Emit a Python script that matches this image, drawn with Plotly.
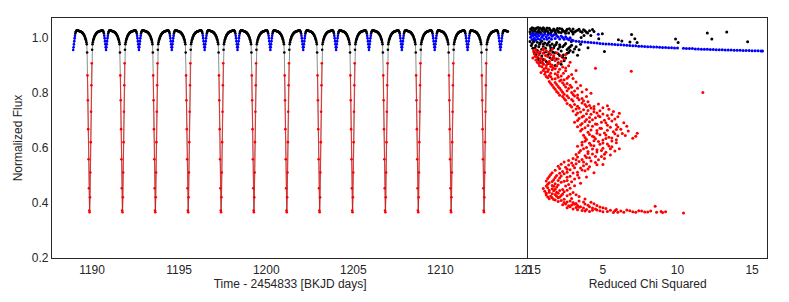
import numpy as np
import plotly.graph_objects as go

# ---------------- Left panel: light curve -------------
period = 1.887            # days between primary eclipses
t_primary_first = 1189.86 # first primary minimum in view
n_per_cycle = 92          # cadences per orbital cycle
k_first, k_last = 46, 1263  # cadence indices covered (start at a secondary minimum)

# flux at each cadence of one cycle, starting at primary minimum
cycle_flux = [
    0.366, 0.420, 0.510, 0.620, 0.730, 0.826, 0.906, 0.955, 0.975, 0.982,
    0.988, 0.993, 0.997, 1.001, 1.004, 1.007, 1.009, 1.011, 1.013, 1.015,
    1.016, 1.017, 1.018, 1.019, 1.020, 1.021, 1.021, 1.022, 1.022, 1.023,
    1.023, 1.024, 1.024, 1.024, 1.025, 1.025, 1.025, 1.024, 1.022, 1.019,
    1.014, 1.006, 0.997, 0.986, 0.975, 0.964, 0.954, 0.964, 0.975, 0.986,
    0.997, 1.006, 1.014, 1.019, 1.022, 1.024, 1.025, 1.025, 1.025, 1.024,
    1.024, 1.024, 1.023, 1.023, 1.022, 1.022, 1.021, 1.021, 1.020, 1.019,
    1.018, 1.017, 1.016, 1.015, 1.013, 1.011, 1.009, 1.007, 1.004, 1.001,
    0.997, 0.993, 0.988, 0.982, 0.975, 0.945, 0.862, 0.772, 0.667, 0.558,
    0.453, 0.372]
# class of each cadence: r = primary eclipse, b = secondary eclipse, k = out of eclipse
cycle_class = "r" * 7 + "k" * 34 + "b" * 11 + "k" * 34 + "r" * 6

# ---------------- Right panel: reduced chi squared vs flux -------
black_points = [
    (0.1, 1.020), (0.2, 1.028), (0.3, 1.016), (0.35, 1.033), (0.45, 1.022), (0.5, 1.030),
    (0.6, 1.018), (0.7, 1.026), (0.8, 1.034), (0.85, 1.015), (0.95, 1.023), (1.05, 1.031),
    (1.1, 1.018), (1.2, 1.027), (1.3, 1.021), (1.4, 1.033), (1.5, 1.016), (1.6, 1.025),
    (1.7, 1.030), (1.8, 1.019), (1.9, 1.027), (2.0, 1.022), (2.1, 1.032), (2.2, 1.017),
    (2.3, 1.026), (2.45, 1.021), (2.6, 1.029), (2.7, 1.016), (2.85, 1.024), (3.0, 1.030),
    (3.1, 1.019), (3.3, 1.026), (3.5, 1.021), (3.7, 1.027), (3.9, 1.018), (4.1, 1.024),
    (4.4, 1.021), (0.25, 1.035), (0.65, 1.036), (1.0, 1.035), (0.15, 1.012), (0.55, 1.013),
    (0.15, 1.030), (0.4, 1.026), (0.55, 1.034), (0.75, 1.020), (0.9, 1.029), (1.15, 1.024),
    (1.25, 1.034), (1.45, 1.027), (1.55, 1.020), (1.75, 1.025), (1.95, 1.032), (2.05, 1.018),
    (2.25, 1.030), (2.35, 1.022), (2.55, 1.024), (2.75, 1.031), (2.95, 1.020), (3.2, 1.023),
    (3.4, 1.029), (3.6, 1.018), (3.8, 1.024), (4.3, 1.028), (0.3, 1.022), (0.65, 1.015),
    (1.35, 1.014), (1.85, 1.013), (2.5, 1.015), (3.0, 1.012),
    (0.1, 0.985), (0.25, 0.978), (0.4, 0.988), (0.5, 0.970), (0.6, 0.982), (0.75, 0.975),
    (0.9, 0.986), (1.0, 0.966), (1.1, 0.979), (1.25, 0.972), (1.4, 0.984), (1.5, 0.962),
    (1.6, 0.976), (1.75, 0.969), (1.9, 0.981), (2.0, 0.958), (2.1, 0.973), (2.3, 0.966),
    (2.5, 0.978), (2.7, 0.961), (2.9, 0.971), (3.2, 0.966), (3.5, 0.975), (0.3, 0.960),
    (0.6, 0.952), (0.9, 0.957), (1.2, 0.948), (1.5, 0.953), (1.8, 0.944), (2.2, 0.950),
    (2.6, 0.942), (3.0, 0.947), (0.5, 0.938), (0.9, 0.932), (1.3, 0.936), (1.7, 0.928),
    (2.1, 0.934), (2.5, 0.925), (0.7, 0.918), (1.2, 0.912), (1.6, 0.920), (2.0, 0.908),
    (2.4, 0.915), (1.0, 0.903), (1.8, 0.898), (3.4, 0.955), (4.0, 0.962),
    (0.2, 0.970), (0.35, 0.984), (0.45, 0.962), (0.7, 0.966), (0.8, 0.980), (1.0, 0.975),
    (1.15, 0.960), (1.3, 0.978), (1.45, 0.970), (1.7, 0.962), (1.85, 0.974), (2.1, 0.965),
    (2.4, 0.971), (2.6, 0.956), (2.8, 0.966), (3.1, 0.958), (0.4, 0.946), (0.75, 0.942),
    (1.05, 0.944), (1.4, 0.940), (1.65, 0.946), (2.0, 0.940), (2.35, 0.936), (2.8, 0.952),
    (0.65, 0.925), (1.0, 0.920), (1.45, 0.926), (1.9, 0.921), (2.3, 0.928), (1.3, 0.905),
    (2.2, 0.902), (0.85, 0.910),
    (3.97, 1.016), (4.19, 1.007), (4.96, 1.013), (3.54, 0.999), (3.73, 1.007), (4.72, 0.995),
    (2.88, 0.985), (5.1, 0.949), (6.04, 0.991), (6.27, 0.987), (6.92, 1.010), (7.14, 0.995),
    (6.81, 0.983), (7.29, 0.981), (9.87, 0.994), (10.04, 0.981), (12.0, 1.016), (12.3, 0.994),
    (13.3, 1.019), (14.7, 0.984), (2.7, 0.945), (3.3, 0.935)]

blue_points = [
    (0.15, 1.000), (0.2, 1.010), (0.25, 0.992), (0.3, 1.005), (0.35, 1.013), (0.4, 0.996),
    (0.45, 1.008), (0.5, 0.990), (0.55, 1.002), (0.6, 1.012), (0.65, 0.995), (0.7, 1.006),
    (0.8, 0.992), (0.85, 1.011), (0.9, 1.000), (1.0, 1.007), (1.05, 0.994), (1.1, 1.012),
    (1.2, 1.002), (1.25, 0.993), (1.3, 1.009), (1.4, 0.998), (1.5, 1.010), (1.55, 0.993),
    (1.6, 1.004), (1.7, 1.009), (1.8, 0.996), (1.9, 1.006), (2.0, 1.001), (2.1, 0.994),
    (2.2, 1.005), (2.3, 0.999), (2.4, 0.993), (2.5, 1.002), (2.6, 0.996), (2.7, 0.991),
    (2.8, 0.998), (2.9, 0.990), (4.69, 1.011),
    (3.0, 0.988), (3.2, 0.986), (3.4, 0.985), (3.6, 0.984), (3.8, 0.983), (4.0, 0.982),
    (4.2, 0.981), (4.4, 0.980), (4.6, 0.979), (4.8, 0.978), (5.0, 0.977), (5.2, 0.976),
    (5.4, 0.976), (5.6, 0.975), (5.8, 0.974), (6.0, 0.973), (6.2, 0.973), (6.4, 0.972),
    (6.6, 0.971), (6.8, 0.970), (7.0, 0.969), (7.2, 0.969), (7.4, 0.968), (7.6, 0.968),
    (7.8, 0.967), (8.0, 0.966), (8.2, 0.966), (8.4, 0.965), (8.6, 0.965), (8.8, 0.964),
    (9.0, 0.963), (9.2, 0.963), (9.4, 0.962), (9.6, 0.962), (9.8, 0.961), (10.0, 0.961),
    (10.4, 0.960), (10.6, 0.959), (10.8, 0.959), (11.0, 0.959), (11.2, 0.958), (11.4, 0.958),
    (11.6, 0.957), (11.8, 0.957), (12.0, 0.957), (12.2, 0.956), (12.4, 0.956), (12.6, 0.955),
    (12.8, 0.955), (13.0, 0.955), (13.2, 0.954), (13.4, 0.954), (13.6, 0.954), (13.8, 0.953),
    (14.0, 0.953), (14.2, 0.953), (14.4, 0.952), (14.6, 0.952), (14.8, 0.952), (15.0, 0.951),
    (15.2, 0.951), (15.4, 0.951), (15.6, 0.950), (15.7, 0.950)]

red_points = [
    (0.5, 0.955), (0.8, 0.948), (1.2, 0.951), (0.4, 0.940), (0.7, 0.936), (1.0, 0.942),
    (1.5, 0.938), (1.9, 0.944), (0.6, 0.928), (0.9, 0.925), (1.3, 0.930), (1.7, 0.926),
    (2.2, 0.932), (0.5, 0.918), (0.8, 0.914), (1.1, 0.919), (1.4, 0.912), (1.8, 0.916),
    (2.4, 0.921), (0.7, 0.905), (1.0, 0.902), (1.3, 0.907), (1.6, 0.899), (2.0, 0.905),
    (0.9, 0.893), (1.2, 0.889), (1.5, 0.894), (1.8, 0.886), (2.3, 0.892), (2.7, 0.897),
    (1.0, 0.880), (1.3, 0.876), (1.6, 0.882), (2.0, 0.874), (2.5, 0.879), (1.1, 0.866),
    (1.4, 0.862), (1.8, 0.868), (2.2, 0.860), (2.9, 0.865), (1.3, 0.853), (1.6, 0.849),
    (2.0, 0.855), (2.4, 0.846), (3.0, 0.851),
    (0.35, 0.950), (0.65, 0.944), (1.0, 0.955), (1.4, 0.947), (1.7, 0.934), (0.45, 0.930),
    (0.8, 0.921), (1.15, 0.934), (1.55, 0.921), (2.0, 0.921), (0.6, 0.910), (0.95, 0.910),
    (1.2, 0.898), (1.45, 0.904), (1.9, 0.896), (2.2, 0.912), (0.75, 0.897), (1.05, 0.886),
    (1.35, 0.883), (1.65, 0.890), (2.1, 0.884), (2.5, 0.889), (0.85, 0.872), (1.15, 0.874),
    (1.5, 0.870), (1.95, 0.863), (2.35, 0.870), (2.7, 0.858), (1.2, 0.858), (1.5, 0.857),
    (1.8, 0.850), (2.2, 0.845), (2.6, 0.852), (1.0, 0.960), (1.6, 0.957), (2.5, 0.938),
    (2.8, 0.910), (3.2, 0.880), (0.3, 0.925), (0.55, 0.945),
    (1.4, 0.840), (1.8, 0.836), (2.1, 0.842), (2.6, 0.833), (3.2, 0.838), (1.6, 0.826),
    (2.0, 0.822), (2.4, 0.828), (2.9, 0.819), (3.5, 0.825), (1.8, 0.812), (2.2, 0.808),
    (2.7, 0.814), (3.1, 0.805), (3.9, 0.811), (2.0, 0.798), (2.4, 0.794), (2.9, 0.800),
    (3.3, 0.791), (4.2, 0.797), (2.3, 0.785), (2.7, 0.781), (3.1, 0.787), (3.6, 0.778),
    (2.5, 0.772), (3.0, 0.769), (3.4, 0.774), (4.0, 0.766),
    (1.5, 0.833), (1.9, 0.829), (2.3, 0.835), (2.8, 0.826), (1.7, 0.818), (2.1, 0.815),
    (2.5, 0.820), (3.3, 0.815), (1.9, 0.804), (2.3, 0.801), (2.6, 0.806), (3.6, 0.802),
    (2.1, 0.790), (2.6, 0.788), (3.0, 0.793), (3.9, 0.785), (2.4, 0.778), (2.9, 0.775),
    (3.3, 0.781), (3.7, 0.770),
    (2.6, 0.760), (3.1, 0.756), (3.6, 0.762), (4.1, 0.753), (4.7, 0.758), (2.9, 0.747),
    (3.4, 0.743), (3.9, 0.749), (4.4, 0.740), (5.0, 0.745), (3.0, 0.733), (3.5, 0.729),
    (4.0, 0.735), (4.6, 0.726), (5.7, 0.731), (6.1, 0.725), (3.2, 0.719), (3.7, 0.715),
    (4.2, 0.721), (4.8, 0.712), (5.3, 0.717), (3.4, 0.706), (3.9, 0.702), (4.5, 0.708),
    (5.1, 0.699), (5.8, 0.704),
    (2.8, 0.754), (3.3, 0.750), (3.8, 0.756), (4.4, 0.749), (5.3, 0.752), (3.2, 0.740),
    (3.7, 0.737), (4.2, 0.744), (4.8, 0.734), (5.4, 0.739), (3.3, 0.726), (3.9, 0.723),
    (4.4, 0.730), (5.0, 0.722), (5.6, 0.720), (3.6, 0.711), (4.1, 0.709), (4.7, 0.716),
    (5.4, 0.706), (6.0, 0.712),
    (3.1, 0.692), (3.6, 0.688), (4.1, 0.694), (4.6, 0.685), (5.2, 0.690), (5.9, 0.683),
    (3.3, 0.676), (3.8, 0.672), (4.3, 0.678), (4.9, 0.669), (5.5, 0.674), (6.2, 0.667),
    (3.5, 0.660), (4.0, 0.656), (4.6, 0.662), (5.1, 0.653), (5.7, 0.658), (6.3, 0.651),
    (7.0, 0.634), (7.2, 0.641), (3.7, 0.645), (4.3, 0.641), (4.8, 0.647), (5.4, 0.638),
    (6.0, 0.643), (3.9, 0.630), (4.5, 0.632), (5.0, 0.628), (5.6, 0.635),
    (3.3, 0.698), (3.8, 0.695), (4.3, 0.701), (4.9, 0.692), (5.6, 0.697), (6.4, 0.690),
    (3.5, 0.682), (4.0, 0.680), (4.5, 0.686), (5.3, 0.681), (6.0, 0.675), (6.6, 0.678),
    (3.6, 0.667), (4.2, 0.664), (4.8, 0.670), (5.3, 0.663), (5.9, 0.666), (6.7, 0.660),
    (4.1, 0.648), (4.6, 0.652), (5.2, 0.646), (5.8, 0.650), (6.5, 0.644), (7.3, 0.652),
    (3.8, 0.637), (4.4, 0.639), (5.2, 0.633), (5.9, 0.629),
    (3.6, 0.620), (4.1, 0.616), (4.7, 0.622), (5.3, 0.613), (5.9, 0.618), (3.3, 0.605),
    (3.9, 0.601), (4.4, 0.607), (5.0, 0.598), (5.6, 0.603), (6.1, 0.596), (3.5, 0.590),
    (4.0, 0.586), (4.6, 0.592), (5.2, 0.583), (5.8, 0.588), (3.2, 0.575), (3.8, 0.571),
    (4.3, 0.577), (4.9, 0.568), (5.5, 0.573), (3.0, 0.561), (3.6, 0.557), (4.1, 0.563),
    (4.7, 0.556),
    (3.8, 0.623), (4.4, 0.625), (5.0, 0.617), (5.6, 0.624), (3.6, 0.610), (4.2, 0.609),
    (4.8, 0.612), (5.4, 0.606), (3.7, 0.596), (4.3, 0.595), (4.9, 0.590), (5.5, 0.596),
    (3.4, 0.582), (4.0, 0.579), (4.6, 0.584), (5.1, 0.576), (3.3, 0.566), (3.9, 0.564),
    (4.5, 0.568), (5.1, 0.561),
    (2.4, 0.548), (2.9, 0.544), (3.4, 0.550), (3.9, 0.541), (4.5, 0.546), (5.0, 0.539),
    (2.0, 0.533), (2.5, 0.529), (3.0, 0.535), (3.5, 0.526), (4.1, 0.531), (1.8, 0.518),
    (2.3, 0.514), (2.8, 0.520), (3.3, 0.511), (3.8, 0.516), (4.4, 0.509),
    (2.7, 0.553), (3.2, 0.556), (3.7, 0.548), (4.2, 0.552), (2.2, 0.540), (2.7, 0.537),
    (3.2, 0.542), (3.7, 0.534), (4.6, 0.538), (2.1, 0.524), (2.6, 0.522), (3.1, 0.527),
    (3.6, 0.519), (4.0, 0.523),
    (1.5, 0.503), (1.9, 0.499), (2.4, 0.505), (2.8, 0.496), (3.3, 0.501), (3.9, 0.494),
    (1.3, 0.488), (1.7, 0.484), (2.1, 0.490), (2.6, 0.481), (3.1, 0.486), (1.4, 0.473),
    (1.8, 0.469), (2.2, 0.475), (2.7, 0.466), (3.5, 0.471), (1.2, 0.461), (1.6, 0.463),
    (1.6, 0.509), (2.1, 0.507), (2.6, 0.511), (3.0, 0.508), (1.4, 0.495), (1.8, 0.492),
    (2.2, 0.497), (2.6, 0.493), (3.4, 0.491), (1.2, 0.479), (1.6, 0.477), (2.0, 0.481),
    (2.4, 0.478), (2.9, 0.476), (1.3, 0.467), (1.7, 0.460), (2.0, 0.465), (2.5, 0.461),
    (3.1, 0.462),
    (1.3, 0.455), (1.6, 0.451), (1.9, 0.457), (2.3, 0.448), (2.8, 0.453), (1.1, 0.442),
    (1.4, 0.438), (1.7, 0.444), (2.0, 0.435), (2.4, 0.440), (3.0, 0.437), (1.2, 0.428),
    (1.5, 0.424), (1.8, 0.430), (2.1, 0.421), (2.6, 0.426), (3.4, 0.423), (1.4, 0.415),
    (1.7, 0.412), (2.0, 0.418), (2.4, 0.413), (2.9, 0.416), (3.8, 0.414),
    (1.0, 0.452), (1.4, 0.446), (1.8, 0.449), (2.1, 0.445), (2.6, 0.446), (1.2, 0.435),
    (1.6, 0.433), (1.9, 0.438), (2.3, 0.432), (2.8, 0.431), (1.3, 0.421), (1.6, 0.418),
    (1.9, 0.424), (2.2, 0.427), (3.2, 0.429),
    (2.0, 0.405), (2.4, 0.401), (2.8, 0.407), (3.2, 0.398), (3.7, 0.403), (2.3, 0.393),
    (2.7, 0.389), (3.1, 0.395), (3.5, 0.386), (4.0, 0.391), (4.4, 0.397), (2.6, 0.382),
    (3.0, 0.378), (3.4, 0.384), (3.9, 0.376), (4.3, 0.381), (4.8, 0.385), (5.2, 0.379),
    (3.6, 0.372), (4.1, 0.369), (4.6, 0.374), (5.0, 0.368), (5.5, 0.373), (5.9, 0.376),
    (6.2, 0.370), (6.6, 0.374), (7.0, 0.368), (7.4, 0.371), (7.8, 0.367), (8.2, 0.370),
    (8.6, 0.366), (9.2, 0.368), (5.7, 0.365), (6.4, 0.366), (10.4, 0.363), (8.5, 0.388),
    (1.8, 0.410), (2.2, 0.408), (2.6, 0.403), (3.0, 0.401), (3.4, 0.407), (4.2, 0.402),
    (2.5, 0.396), (2.9, 0.392), (3.3, 0.390), (3.8, 0.396), (4.6, 0.390), (2.8, 0.386),
    (3.2, 0.383), (3.7, 0.381), (4.1, 0.386), (4.5, 0.378), (5.0, 0.382), (3.3, 0.375),
    (3.8, 0.370), (4.3, 0.373), (4.8, 0.371), (5.3, 0.369), (5.8, 0.371), (6.0, 0.366),
    (6.8, 0.371), (7.2, 0.366), (7.6, 0.370), (8.0, 0.367), (8.9, 0.369), (9.0, 0.365),
    (4.5, 0.888), (6.9, 0.877), (11.7, 0.800)]

left_xticks = [1190, 1195, 1200, 1205, 1210, 1215]
right_xticks = [0, 5, 10, 15]
y_ticks = [0.2, 0.4, 0.6, 0.8, 1.0]
y_ticktext = ["0.2", "0.4", "0.6", "0.8", "1.0"]

# ---------------- build light-curve series ----------------
cad = period / n_per_cycle
t_ref = t_primary_first - period
k = np.arange(k_first, k_last + 1)
t = t_ref + k * cad
f = np.array([cycle_flux[i % n_per_cycle] for i in k])
c = np.array([cycle_class[i % n_per_cycle] for i in k])


def segments(cls):
    xs, ys = [], []
    prev = False
    for ti, fi, ci in zip(t, f, c):
        if ci == cls:
            xs.append(ti); ys.append(fi); prev = True
        elif prev:
            xs.append(None); ys.append(None); prev = False
    return xs, ys


fig = go.Figure()
fig.add_trace(go.Scatter(x=t, y=f, mode="lines", line=dict(color="rgba(0,0,0,0.45)", width=1),
                         xaxis="x", yaxis="y", hoverinfo="skip"))
for cls, lc in [("r", "rgba(255,0,0,0.6)"), ("b", "rgba(0,0,255,0.6)")]:
    xs, ys = segments(cls)
    fig.add_trace(go.Scatter(x=xs, y=ys, mode="lines", line=dict(color=lc, width=1.2),
                             xaxis="x", yaxis="y", hoverinfo="skip"))
for cls, mc in [("k", "black"), ("b", "blue"), ("r", "red")]:
    m = c == cls
    fig.add_trace(go.Scatter(x=t[m], y=f[m], mode="markers",
                             marker=dict(color=mc, size=2.6, line=dict(width=0)),
                             xaxis="x", yaxis="y"))

for pts, mc in [(black_points, "black"), (red_points, "red"), (blue_points, "blue")]:
    xs = [p[0] for p in pts]
    ys = [p[1] for p in pts]
    fig.add_trace(go.Scatter(x=xs, y=ys, mode="markers",
                             marker=dict(color=mc, size=3, line=dict(width=0)),
                             xaxis="x2", yaxis="y2"))

axis_common = dict(showline=True, linecolor="#262626", linewidth=1.3,
                   showgrid=False, zeroline=False, ticks="",
                   tickfont=dict(size=12, color="#262626"))
# the page body adds an 8px offset, so the figure is 8px smaller and margins shifted
split = (536 - 49) / (780 - 49)
fig.update_layout(
    width=781, height=294,
    margin=dict(l=41, r=9, t=10, b=44),
    plot_bgcolor="white", paper_bgcolor="white",
    showlegend=False,
    font=dict(family="Liberation Sans, Arial, sans-serif", size=12, color="#262626"),
    xaxis=dict(domain=[0, split], range=[1187.7, 1215.05], tickmode="array",
               tickvals=left_xticks, anchor="y", mirror=True,
               title=dict(text="Time - 2454833 [BKJD days]", font=dict(size=12), standoff=4),
               **axis_common),
    xaxis2=dict(domain=[split, 1], range=[0, 16], tickmode="array", tickvals=right_xticks,
                anchor="y2", mirror=True,
                title=dict(text="Reduced Chi Squared", font=dict(size=12), standoff=4),
                **axis_common),
    yaxis=dict(range=[0.2, 1.07], tickmode="array", tickvals=y_ticks, ticktext=y_ticktext,
               anchor="x", mirror=False,
               title=dict(text="Normalized Flux", font=dict(size=12), standoff=6),
               **axis_common),
    yaxis2=dict(range=[0.2, 1.07], matches="y", anchor="x2", showticklabels=False,
                mirror=True, **axis_common),
)

fig.write_html("out.html")
